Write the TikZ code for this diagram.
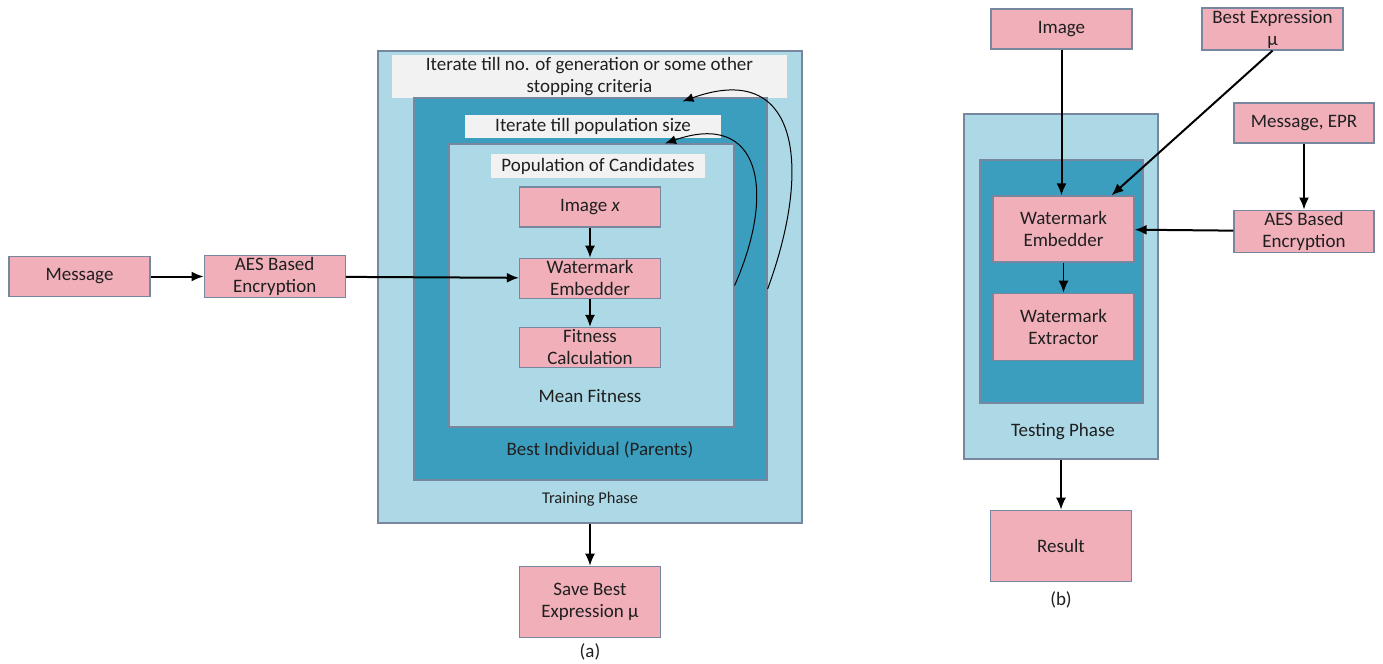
\documentclass[tikz,border=0pt]{standalone}
\usepackage{fontspec}
\setmainfont{Carlito}
\usepackage{tikz}
\usetikzlibrary{arrows.meta,calc,positioning}
\definecolor{pinkbx}{RGB}{241,176,185}
\definecolor{lblue}{RGB}{173,216,230}
\definecolor{dblue}{RGB}{60,158,190}
\definecolor{bordr}{RGB}{120,135,160}
\definecolor{lgray}{RGB}{242,242,242}
\tikzstyle{blk}=[rectangle,draw=bordr,line width=0.6pt,fill=pinkbx,minimum width=70.5pt,minimum height=20pt,align=center,inner sep=1pt]
\tikzstyle{lay}=[rectangle,draw=bordr,line width=0.6pt,inner sep=0pt]
\tikzstyle{tag}=[rectangle,fill=lgray,align=center,inner sep=0pt]
\tikzset{
	fl/.style={-{Latex[length=6pt,width=5pt]},line width=1pt},
	thn/.style={-{Latex[length=6pt,width=5pt]},line width=0.65pt},
	loopback/.style={-{Latex[length=5.5pt,width=4.5pt]},line width=0.5pt}
}

\begin{document}
\begin{tikzpicture}[x=0.5pt,y=-0.5pt,font=\fontsize{9.5}{11}\selectfont,text=black!88]
	\useasboundingbox (0,0) rectangle (1383,664);
	% training phase (a)
	\node (train) [lay,fill=lblue,minimum width=212pt,minimum height=236pt] at (590,287) {};
	\node (itgen) [tag,minimum width=197.5pt,minimum height=21.5pt] at (589.5,76.5) {Iterate till no. of generation or some other\\stopping criteria};
	\node (best) [lay,fill=dblue,minimum width=176.5pt,minimum height=191pt] at (590.5,289) {};
	\node (itpop) [tag,minimum width=128pt,minimum height=11.5pt] at (593,126.5) {Iterate till population size};
	\node (pop) [lay,fill=lblue,minimum width=142.5pt,minimum height=141.5pt] at (591.5,285.5) {};
	\node (popc) [tag,minimum width=107pt,minimum height=12pt] at (598,166) {Population of Candidates};
	\node (imgL) [blk] at (590,207) {Image \textit{x}};
	\node (weL) [blk,below=15pt of imgL] {Watermark\\Embedder};
	\node (fitL) [blk,below=14pt of weL] {Fitness\\Calculation};
	\node (meanf) at (590,396) {Mean Fitness};
	\node (bestp) at (600,450) {Best Individual (Parents)};
	\node (trainp) [font=\fontsize{8.2}{10}\selectfont] at (590,499) {Training Phase};
	\node (msgL) [blk] at (79.5,276.5) {Message};
	\node (aesL) [blk,right=26.5pt of msgL] {AES Based\\Encryption};
	\node (saveL) [blk,minimum height=35.5pt,below=21pt of train] {Save Best\\Expression μ};
	\node (capa) at (590,652) {(a)};
	\draw[fl] (msgL) -- (aesL);
	\draw[fl] (aesL) -- (weL);
	\draw[thn] (imgL) -- (weL);
	\draw[thn] (weL) -- (fitL);
	\draw[thn] (train) -- (saveL);
	\draw[loopback] (pop.east) .. controls +(42,-95) and +(95,-33) .. ([xshift=36.75pt]pop.north);
	\draw[loopback] (best.east) .. controls +(45,-122) and +(117,-42) .. ([xshift=46pt,yshift=-2pt]best.north);
	% testing phase (b)
	\node (test) [lay,fill=lblue,minimum width=97pt,minimum height=172.5pt] at (1061,286.5) {};
	\node (inner) [lay,fill=dblue,minimum width=81.5pt,minimum height=121.5pt] at (1061.5,281.5) {};
	\node (weR) [blk,minimum height=33pt] at (1063.5,229) {Watermark\\Embedder};
	\node (extR) [blk,minimum height=33.5pt,below=15pt of weR] {Watermark\\Extractor};
	\node (testp) at (1063,432) {Testing Phase};
	\node (imgR) [blk] at (1061.5,29) {Image};
	\node (bexR) [blk] at (1272.5,29) {Best Expression\\μ};
	\node (msgR) [blk,minimum width=70pt] at (1304,123) {Message, EPR};
	\node (aesR) [blk,minimum width=70pt,below=33pt of msgR] {AES Based\\Encryption};
	\node (resR) [blk,minimum height=35.5pt,below=25pt of test] {Result};
	\node (capb) at (1061,600) {(b)};
	\draw[fl] (imgR) -- (imgR |- weR.north);
	\draw[fl] (bexR.south) -- ([xshift=24pt]weR.north);
	\draw[fl] (msgR) -- (aesR);
	\draw[fl] (aesR) -- (weR);
	\draw[thn] (weR) -- (extR);
	\draw[thn] (test) -- (resR);
\end{tikzpicture}
\end{document}
